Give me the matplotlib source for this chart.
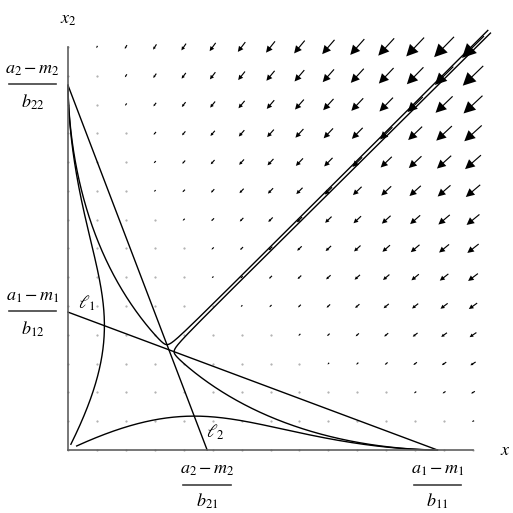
import numpy as np
import matplotlib.pyplot as plt

plt.rcParams['mathtext.fontset'] = 'stix'
plt.rcParams['font.family'] = 'STIXGeneral'

# growth rates a_i - m_i
r1, r2 = 1.0, 1.0
# nullcline intercepts: (a1-m1)/b11, (a1-m1)/b12, (a2-m2)/b21, (a2-m2)/b22
K11, K12 = 12.77, 4.79
K21, K22 = 4.81, 12.67
b11, b12 = r1 / K11, r1 / K12
b21, b22 = r2 / K21, r2 / K22

# starting points of the orbits near the origin
starts_low = [(0.10, 0.20), (0.30, 0.14)]
corner = 29.0        # x + y where the separatrix orbits begin
offset = 0.065       # distance of those orbits from the separatrix
grid = np.arange(0, 15)
arrow_scale = 0.018


def field(p):
    x, y = p
    return np.array([x * (r1 - b11 * x - b12 * y),
                     y * (r2 - b21 * x - b22 * y)])


def orbit(p0, dt=0.004, T=40.0, stop=None):
    p = np.array(p0, float)
    pts = [p.copy()]
    for _ in range(int(abs(T / dt))):
        k1 = field(p)
        k2 = field(p + dt / 2 * k1)
        k3 = field(p + dt / 2 * k2)
        k4 = field(p + dt * k3)
        p = p + dt / 6 * (k1 + 2 * k2 + 2 * k3 + k4)
        pts.append(p.copy())
        if stop is not None and stop(p):
            break
    return np.array(pts)


# interior (saddle) equilibrium and its stable direction
A = np.array([[b11, b12], [b21, b22]])
sx, sy = np.linalg.solve(A, [r1, r2])
J = np.array([[-b11 * sx, -b12 * sx], [-b21 * sy, -b22 * sy]])
w, V = np.linalg.eig(J)
vs = V[:, np.argmin(w)]
if vs[0] < 0:
    vs = -vs
sep = orbit(np.array([sx, sy]) + 1e-5 * vs, dt=-0.002, T=30,
            stop=lambda p: p[0] + p[1] > corner)
p_top = sep[-1]
normal = np.array([-1.0, 1.0]) / np.sqrt(2)

fig = plt.figure(figsize=(5.13, 5.13), dpi=100)
ax = fig.add_axes([68 / 513, 63 / 513, 405 / 513, 403 / 513])
ax.set_xlim(0, 14)
ax.set_ylim(0, 14)
for s in ['top', 'right']:
    ax.spines[s].set_visible(False)
for s in ['left', 'bottom']:
    ax.spines[s].set_color('#606060')
    ax.spines[s].set_linewidth(1.2)
ax.set_xticks([])
ax.set_yticks([])

# direction field
for gx in grid:
    for gy in grid:
        u, v = field((gx, gy))
        dx, dy = arrow_scale * u, arrow_scale * v
        L = np.hypot(dx, dy)
        if L < 0.08:
            ax.plot(gx, gy, '.', color='#a8a8a8', ms=1.1, clip_on=False)
            continue
        ax.arrow(gx - dx / 2, gy - dy / 2, dx, dy, width=0.04,
                 head_width=0.45 * L, head_length=0.45 * L,
                 length_includes_head=True, fc='k', ec='none',
                 clip_on=False, zorder=3)

# nullclines
ax.plot([0, K11], [K12, 0], color='k', lw=1.0, clip_on=False)
ax.plot([0, K21], [K22, 0], color='k', lw=1.0, clip_on=False)

# orbits
for p0 in starts_low:
    tr = orbit(p0)
    ax.plot(tr[:, 0], tr[:, 1], color='k', lw=1.0, clip_on=False)
for sgn in [1, -1]:
    tr = orbit(p_top + sgn * offset * normal)
    ax.plot(tr[:, 0], tr[:, 1], color='k', lw=1.0, clip_on=False)

# labels
fs = 13


def frac(xc, yb, num, den, half=0.82, gap=0.3):
    ax.plot([xc - half, xc + half], [yb, yb], color='#404040', lw=1.2,
            clip_on=False)
    ax.text(xc, yb + 0.22, num, ha='center', va='bottom', fontsize=fs)
    ax.text(xc, yb - gap, den, ha='center', va='top', fontsize=fs)


frac(-1.23, K22 + 0.05, r'$a_2 - m_2$', r'$b_{22}$')
frac(-1.23, K12 + 0.03, r'$a_1 - m_1$', r'$b_{12}$')
frac(K21, -1.2, r'$a_2 - m_2$', r'$b_{21}$', gap=0.24)
frac(K11, -1.2, r'$a_1 - m_1$', r'$b_{11}$', gap=0.24)
ax.text(0, 14.95, r'$x_2$', ha='center', va='center', fontsize=fs)
ax.text(14.95, -0.05, r'$x$', ha='left', va='center', fontsize=fs)
ax.text(0.65, 5.1, r'$\ell_1$', ha='center', va='center', fontsize=fs)
ax.text(5.1, 0.6, r'$\ell_2$', ha='center', va='center', fontsize=fs)

fig.savefig('out.png', dpi=100)
